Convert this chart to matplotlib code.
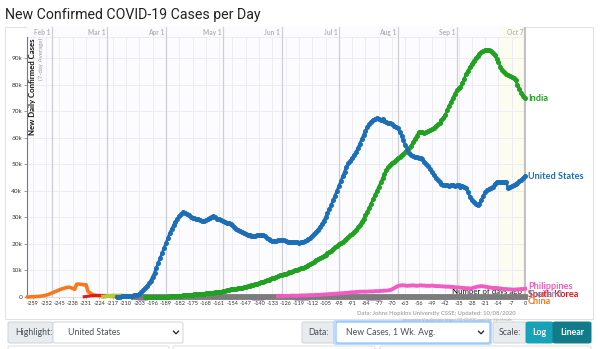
import numpy as np
import matplotlib
matplotlib.use("Agg")
import matplotlib.pyplot as plt
from matplotlib.patches import Rectangle, FancyBboxPatch
from matplotlib.lines import Line2D

plt.rcParams['font.family'] = ['Lato', 'DejaVu Sans']

# Daily new cases, 7-day average, in thousands. Day 0 = Oct 7, 2020
us_start = -215
us_cases = [
    0.1, 0.1, 0.1, 0.2, 0.2, 0.3, 0.3, 0.4, 0.5, 0.6,
    0.7, 0.8, 1.2, 1.8, 2.6, 3.4, 4.2, 5.1, 6.2, 7.6,
    9.2, 11.0, 12.8, 14.6, 16.5, 18.4, 20.4, 22.3, 24.0, 25.6,
    27.0, 28.3, 29.5, 30.5, 31.3, 32.0, 31.8, 31.4, 30.8, 30.2,
    29.8, 29.6, 29.5, 29.3, 29.0, 28.8, 28.7, 28.9, 29.4, 29.9,
    30.3, 30.4, 30.0, 29.5, 29.2, 28.9, 28.6, 28.3, 28.0, 27.7,
    27.4, 27.0, 26.4, 25.8, 25.2, 24.7, 24.3, 24.0, 23.7, 23.5,
    23.3, 23.1, 23.0, 23.1, 23.3, 23.4, 23.3, 23.2, 22.8, 22.3,
    21.8, 21.4, 21.0, 21.0, 21.2, 21.4, 21.4, 21.3, 21.3, 21.1,
    20.9, 20.8, 20.7, 20.6, 20.6, 20.6, 20.5, 20.6, 20.8, 21.0,
    21.4, 21.8, 22.3, 23.0, 23.8, 24.6, 25.4, 26.3, 27.4, 28.6,
    30.0, 31.5, 33.0, 34.6, 36.4, 38.2, 40.0, 41.8, 43.6, 45.4,
    47.2, 49.0, 50.3, 51.3, 52.3, 53.3, 54.6, 56.0, 57.7, 59.4,
    61.0, 62.5, 64.0, 65.2, 66.1, 66.7, 67.0, 67.3, 67.1, 66.8,
    67.0, 66.4, 65.8, 65.4, 65.6, 65.0, 64.5, 64.2, 63.6, 62.3,
    60.8, 59.0, 57.2, 55.6, 54.2, 53.4, 53.0, 52.8, 52.6, 52.2,
    52.5, 51.8, 51.0, 50.0, 49.2, 48.4, 47.2, 46.0, 45.0, 44.0,
    43.2, 42.6, 42.2, 42.0, 42.0, 41.8, 42.2, 42.0, 41.9, 42.1,
    42.0, 41.6, 41.8, 41.4, 41.0, 39.5, 37.8, 36.5, 35.6, 35.0,
    34.6, 35.2, 36.6, 38.2, 39.4, 40.2, 40.8, 41.2, 41.6, 42.4,
    43.2, 43.3, 43.2, 43.4, 43.5, 43.2, 41.2, 41.4, 41.8, 42.2,
    42.6, 43.0, 43.6, 44.2, 44.8, 45.5,
]

india_start = -200
india_cases = [
    0.0, 0.0, 0.0, 0.0, 0.0, 0.0, 0.0, 0.0, 0.1, 0.1,
    0.1, 0.1, 0.1, 0.2, 0.2, 0.3, 0.3, 0.4, 0.5, 0.5,
    0.6, 0.7, 0.8, 0.8, 0.9, 0.9, 1.0, 1.0, 1.1, 1.2,
    1.2, 1.3, 1.4, 1.4, 1.5, 1.5, 1.6, 1.7, 1.8, 1.9,
    2.0, 2.2, 2.4, 2.6, 2.8, 2.9, 3.0, 3.1, 3.2, 3.3,
    3.4, 3.5, 3.6, 3.8, 4.0, 4.2, 4.4, 4.6, 4.8, 5.0,
    5.3, 5.6, 5.8, 6.0, 6.3, 6.5, 6.8, 7.0, 7.3, 7.6,
    7.9, 8.2, 8.4, 8.6, 8.8, 9.0, 9.3, 9.6, 9.8, 10.0,
    10.3, 10.6, 10.8, 11.0, 11.3, 11.7, 12.1, 12.5, 12.9, 13.3,
    13.8, 14.2, 14.6, 15.0, 15.5, 16.0, 16.5, 17.0, 17.5, 18.1,
    18.7, 19.3, 19.8, 20.3, 20.8, 21.3, 21.9, 22.5, 23.2, 23.9,
    24.6, 25.4, 26.2, 27.2, 28.3, 29.5, 30.8, 32.2, 33.7, 35.2,
    36.8, 38.4, 40.0, 41.6, 43.2, 44.8, 46.3, 47.7, 48.9, 49.8,
    50.5, 51.0, 51.6, 52.2, 52.8, 53.5, 54.0, 54.6, 55.3, 56.0,
    57.0, 58.2, 59.5, 60.8, 62.0, 62.3, 62.0, 61.8, 62.2, 62.5,
    62.8, 63.2, 63.8, 64.5, 65.0, 65.4, 66.5, 67.5, 68.5, 70.3,
    72.0, 73.5, 75.0, 76.5, 77.8, 78.6, 79.0, 80.5, 82.3, 84.0,
    85.3, 86.6, 87.8, 89.0, 90.0, 90.8, 91.6, 92.2, 92.7, 93.0,
    93.1, 93.0, 92.6, 91.9, 91.0, 89.8, 88.4, 86.8, 85.5, 84.6,
    84.0, 83.5, 83.2, 82.9, 82.6, 81.6, 80.0, 78.4, 77.0, 75.8,
    74.8,
]

philippines_start = -130
philippines_cases = [
    0.3, 0.3, 0.3, 0.4, 0.4, 0.4, 0.4, 0.5, 0.5, 0.5,
    0.5, 0.5, 0.6, 0.6, 0.6, 0.6, 0.7, 0.7, 0.7, 0.7,
    0.8, 0.8, 0.8, 0.9, 0.9, 1.0, 1.0, 1.1, 1.1, 1.2,
    1.2, 1.3, 1.3, 1.4, 1.4, 1.5, 1.5, 1.6, 1.7, 1.8,
    1.8, 1.9, 1.9, 2.0, 2.0, 2.0, 2.0, 2.0, 2.1, 2.1,
    2.1, 2.2, 2.2, 2.2, 2.3, 2.3, 2.4, 2.4, 2.5, 2.6,
    2.9, 3.3, 3.7, 4.1, 4.3, 4.4, 4.4, 4.3, 4.2, 4.3,
    4.3, 4.4, 4.3, 4.2, 4.3, 4.4, 4.3, 4.3, 4.2, 4.2,
    4.2, 4.3, 4.2, 4.1, 4.1, 4.1, 4.0, 4.0, 3.9, 3.9,
    3.9, 3.8, 3.8, 3.7, 3.6, 3.6, 3.5, 3.4, 3.4, 3.3,
    3.3, 3.2, 3.3, 3.5, 3.7, 3.9, 4.0, 4.1, 4.0, 3.9,
    3.8, 3.6, 3.5, 3.4, 3.4, 3.4, 3.3, 3.2, 3.1, 3.0,
    3.0, 2.9, 2.9, 2.8, 2.8, 2.8, 2.9, 2.9, 3.0, 3.0,
    3.1,
]

china_start = -262
china_cases = [
    0.0, 0.0, 0.1, 0.1, 0.1, 0.2, 0.2, 0.3, 0.4, 0.5,
    0.7, 0.9, 1.2, 1.5, 1.8, 2.1, 2.4, 2.7, 3.0, 3.2,
    3.4, 3.6, 3.7, 3.5, 3.2, 2.9, 4.8, 4.9, 4.8, 4.7,
    4.6, 4.6, 2.1, 1.6, 1.1, 0.8, 0.6, 0.5, 0.5, 0.4,
    0.4, 0.3, 0.3, 0.3, 0.2, 0.2, 0.2, 0.1, 0.1, 0.1,
    0.1, 0.1, 0.1, 0.1, 0.1, 0.1, 0.1, 0.1, 0.1, 0.1,
]

korea_start = -232
korea_cases = [
    0.1, 0.2, 0.3, 0.4, 0.5, 0.5, 0.6, 0.6, 0.6, 0.6,
    0.6, 0.6, 0.5, 0.5, 0.5, 0.4, 0.3, 0.3, 0.2, 0.2,
    0.1, 0.1, 0.1, 0.1, 0.1, 0.1, 0.1, 0.1,
]

thailand_days = [-206, -182, -161, -140, -119, -98, -77, -56, -35, -14, 0]
thailand_cases = [0.0, 0.0, 0.0, 0.0, 0.0, 0.0, 0.0, 0.0, 0.0, 0.0, 0.0]

iran_start = -222
iran_cases = [
    0.1, 0.2, 0.3, 0.4, 0.4, 0.5, 0.5, 0.5, 0.5, 0.5,
    0.5, 0.4, 0.4, 0.4, 0.3, 0.3, 0.2, 0.2,
]

vietnam_days = [-206, -203, -199, -197, -145, -143, -138, -136, -122, -121,
                -114, -113, -84, -83, -76, -75, -43, -42, -40, 0]
vietnam_cases = [0.0, -0.6, -0.6, 0.0, 0.0, -0.6, -0.6, 0.0, 0.0, -0.6,
                 -0.6, 0.0, 0.0, -0.6, -0.6, 0.0, 0.0, -0.6, 0.0, 0.0]

week_ticks = list(range(-259, 1, 7))
month_days = [-249, -220, -189, -159, -128, -98, -67, -36]
month_names = ['Feb 1', 'Mar 1', 'Apr 1', 'May 1', 'Jun 1', 'Jul 1', 'Aug 1', 'Sep 1']


def days_from(start, values):
    return np.arange(start, start + len(values))


W, H = 600, 349


def fx(x):
    return x / W


def fy(y):
    return 1 - y / H


fig = plt.figure(figsize=(6, 3.49), dpi=100)

fig.text(fx(5), fy(19.5), 'New Confirmed COVID-19 Cases per Day', fontsize=10.2,
         family='Roboto', color='#222222', va='baseline')

# chart frame, kept behind the axes
fig.patches.append(Rectangle((fx(5), fy(319)), fx(588), 292 / H, transform=fig.transFigure,
                             facecolor='white', edgecolor='#e2e2e2', lw=0.8, zorder=-1))

ax = fig.add_axes([fx(27), fy(297), fx(526 - 27), (297 - 27) / H])
ax.set_facecolor('#fcfbfe')
ax.set_xlim(-262.1, 0.5)
ax.set_ylim(0, 101.7)

# grid
grid_top = 98
for v in range(10, 100, 10):
    ax.plot([-262.1, 0], [v, v], color='#ebeaf3', lw=0.6, zorder=1)
ax.plot([-262.1, 0], [grid_top, grid_top], color='#ebeaf3', lw=0.6, zorder=1)
for d in week_ticks:
    ax.plot([d, d], [0, grid_top], color='#ebeaf3', lw=0.6, zorder=1)
for d, name in zip(month_days, month_names):
    ax.axvline(d, color='#cfced6', lw=0.9, zorder=1)
    ax.text(d - 0.8, 99.8, name, ha='right', va='center', fontsize=4.8,
            color='#b4b4b4', fontweight='bold')
ax.axvspan(-13, 0, color='#fcfcef', zorder=0.5, lw=0)
ax.axvline(0, color='#c2c1c9', lw=1.6, zorder=1)
ax.text(-0.9, 99.8, 'Oct 7', ha='right', va='center', fontsize=4.8,
        color='#b4b4b4', fontweight='bold')

# axes
for s in ['top', 'right']:
    ax.spines[s].set_visible(False)
ax.spines['left'].set_color('#777777')
ax.spines['left'].set_bounds(0, grid_top)
ax.spines['bottom'].set_color('#d6d6d6')
ax.spines['bottom'].set_linewidth(0.6)
ax.set_yticks(range(0, 100, 10))
ax.set_yticklabels(['0'] + ['%dk' % v for v in range(10, 100, 10)])
ax.set_xticks(week_ticks)
ax.set_xticklabels([str(d) for d in week_ticks])
ax.tick_params(axis='y', labelsize=4.6, length=2, width=0.5, color='#777777',
               pad=1.5, labelcolor='#333333')
ax.tick_params(axis='x', labelsize=4.1, length=1.5, width=0.5, color='#999999',
               pad=1.5, labelcolor='#333333')

ax.text(0.012, 0.958, 'New Daily Confirmed Cases', transform=ax.transAxes, rotation=90,
        ha='center', va='top', fontsize=5.6, fontweight='bold', color='#111111', zorder=6)
ax.text(0.028, 0.958, '(7-day Average)', transform=ax.transAxes, rotation=90,
        ha='center', va='top', fontsize=4.4, color='#999999', zorder=6)

ax.text(-1.5, 2.0, 'Number of days ago', ha='right', va='center', fontsize=5.7,
        color='#111111', zorder=2)

# minor series along the bottom
ax.plot(days_from(china_start, china_cases), china_cases, color='#f7791f', lw=2.6,
        solid_capstyle='round', zorder=3, clip_on=False)
ax.plot(days_from(korea_start, korea_cases), korea_cases, color='#e3191c', lw=2.2,
        zorder=3.1, clip_on=False)
ax.plot(days_from(iran_start, iran_cases), iran_cases, color='#b6c93a', lw=3,
        zorder=3.2, clip_on=False)
ax.plot(vietnam_days, vietnam_cases, color='#9d55cf', lw=2.8, zorder=3.3, clip_on=False)
ax.plot(thailand_days, thailand_cases, color='#7c7c7c', lw=4.2, zorder=3.4, clip_on=False)
ax.plot(days_from(philippines_start, philippines_cases), philippines_cases,
        color='#f05cc2', lw=2.8, zorder=4, clip_on=False)

# highlighted series
ax.plot(days_from(india_start, india_cases), india_cases, color='#21a121', lw=2.0,
        marker='o', ms=2.6, zorder=5, clip_on=False)
ax.plot(days_from(us_start, us_cases), us_cases, color='#1d6eb8', lw=2.0,
        marker='o', ms=2.6, zorder=5.5, clip_on=False)

label_kw = dict(ha='left', va='center', fontsize=6.6, fontweight='bold', clip_on=False)
ax.text(1.6, india_cases[-1], 'India', color='#21a121', **label_kw)
ax.text(1.6, us_cases[-1], 'United States', color='#1d6eb8', **label_kw)
ax.text(1.6, 3.9, 'Philippines', color='#f05cc2', **label_kw)
ax.text(1.6, 1.0, 'South Korea', color='#e3191c', **label_kw)
ax.text(1.6, 1.0, 'Thailand', color='#8f7fa0', alpha=0.85, **label_kw)
ax.text(1.6, -1.8, 'China', color='#f7791f', **label_kw)

# source note
fig.text(fx(516), fy(313.5), 'Data: Johns Hopkins University CSSE; Updated: 10/08/2020',
         ha='right', va='center', fontsize=4.2, color='#a9a9a9', fontweight='bold')
fig.text(fx(514), fy(320), 'Interactive Visualization: https://91-DIVOC.com/ by @profwade_',
         ha='right', va='center', fontsize=2.8, color='#a9a9a9')


# control bar
def box(x0, y0, x1, y1, face, edge='#ced4da', lw=0.7):
    fig.patches.append(FancyBboxPatch((fx(x0), fy(y1)), fx(x1 - x0), (y1 - y0) / H,
                                      boxstyle='round,pad=0,rounding_size=0.004',
                                      transform=fig.transFigure, facecolor=face,
                                      edgecolor=edge, lw=lw))


def chevron(x, y):
    fig.lines.append(Line2D([fx(x - 2.5), fx(x), fx(x + 2.5)], [fy(y - 1.3), fy(y + 1.3), fy(y - 1.3)],
                            transform=fig.transFigure, color='#333333', lw=1.0))


ctrl_kw = dict(va='center', fontsize=6.3, color='#495057')
box(8, 322, 53, 343, '#e9ecef')
fig.text(fx(15), fy(332.5), 'Highlight:', **ctrl_kw)
box(53, 322, 183, 343, 'white')
fig.text(fx(68), fy(332.5), 'United States', **ctrl_kw)
chevron(176, 332.5)

box(302, 322, 336, 343, '#e9ecef')
fig.text(fx(308), fy(332.5), 'Data:', **ctrl_kw)
box(334, 321, 491, 344, 'white', edge='#bcdcfd', lw=1.6)
box(336, 322, 490, 343, 'white', edge='#80bdff', lw=0.8)
fig.text(fx(346), fy(332.5), 'New Cases, 1 Wk. Avg.', **ctrl_kw)
chevron(481, 332.5)

box(493, 322, 527, 343, '#e9ecef')
fig.text(fx(499), fy(332.5), 'Scale:', **ctrl_kw)
box(526, 322, 553, 343, '#17a2b8', edge='#17a2b8')
fig.text(fx(539.5), fy(332.5), 'Log', ha='center', va='center', fontsize=6.3,
         color='white', fontweight='bold')
box(553, 322, 591, 343, '#117a8b', edge='#117a8b')
fig.text(fx(572), fy(332.5), 'Linear', ha='center', va='center', fontsize=6.3,
         color='white', fontweight='bold')

for x0, x1 in [(8, 169), (173, 375), (380, 591)]:
    box(x0, 346, x1, 360, 'white', edge='#dddddd')

fig.savefig('out.png', dpi=100)
